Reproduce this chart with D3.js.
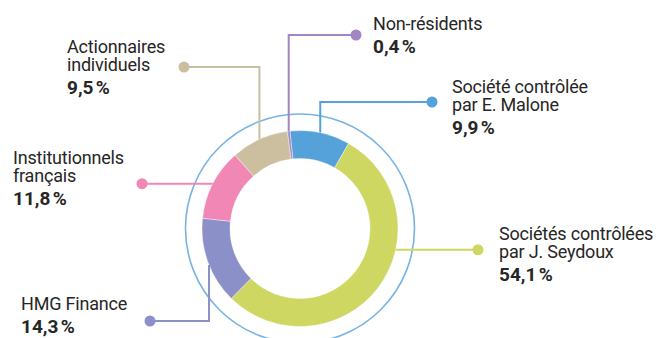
<!DOCTYPE html>
<html>
<head>
<meta charset="utf-8">
<script src="https://cdn.jsdelivr.net/npm/d3@7"></script>
<style>
  html, body { margin: 0; padding: 0; background: #fff; }
  svg { display: block; }
  text { font-family: Roboto, "Liberation Sans", sans-serif; fill: #262626; }
</style>
</head>
<body>
<svg id="chart" width="660" height="338"></svg>
<script>
// Shareholder breakdown, clockwise from the top
const holders = [
  "Société contrôlée|par E. Malone",
  "Sociétés contrôlées|par J. Seydoux",
  "HMG Finance",
  "Institutionnels|français",
  "Actionnaires|individuels",
  "Non-résidents"
];
const shares = [9.9, 54.1, 14.3, 11.8, 9.5, 0.4];
const shareLabels = ["9,9\u202F%", "54,1\u202F%", "14,3\u202F%", "11,8\u202F%", "9,5\u202F%", "0,4\u202F%"];
const colors = ["#54a2d9", "#cdd762", "#8c90c8", "#f087b5", "#cbbf9f", "#a285c3"];

// Callout layout: leader direction, where on the slice it attaches (0..1),
// dot position and text block placement.
const callouts = [
  { dir: "v", t: 0.5,   dot: [432, 102], tx: 452, ty: 93  },
  { dir: "h", t: 0.374, dot: [478, 0],   tx: 499, ty: 240 },
  { dir: "v", t: 0.46,  dot: [150, 321], tx: 21,  ty: 310 },
  { dir: "h", t: 0.5,   dot: [142, 0],   tx: 13,  ty: 164 },
  { dir: "v", t: 0.5,   dot: [184, 67],  tx: 67,  ty: 53  },
  { dir: "v", t: 0.5,   dot: [356, 35],  tx: 373, ty: 30  }
];

const svg = d3.select("#chart");
const cx = 300, cy = 228.5;
const rOuter = 98, rInner = 70, rRing = 114.5;
const lineGap = 17.5, valueGap = 23;

const g = svg.append("g").attr("transform", `translate(${cx},${cy})`);

// Thin outer guide ring
g.append("circle")
  .attr("r", rRing)
  .attr("fill", "none")
  .attr("stroke", "#78b4e3")
  .attr("stroke-width", 1.6);

const start = -5.9 * Math.PI / 180;
const pie = d3.pie().sort(null).startAngle(start).endAngle(start + 2 * Math.PI);
const arcs = pie(shares);
const arc = d3.arc().innerRadius(rInner).outerRadius(rOuter);

g.selectAll("path.slice")
  .data(arcs)
  .join("path")
  .attr("class", "slice")
  .attr("d", arc)
  .attr("fill", (d, i) => colors[i])
  .attr("stroke", "#fff")
  .attr("stroke-width", 0.4);

// Leader lines, dots and text blocks
arcs.forEach((a, i) => {
  const c = callouts[i];
  const ang = a.startAngle + (a.endAngle - a.startAngle) * c.t;
  const ax = cx + rOuter * Math.sin(ang);
  const ay = cy - rOuter * Math.cos(ang);
  let pts, dot;
  if (c.dir === "v") {
    pts = [[ax, ay], [ax, c.dot[1]], [c.dot[0], c.dot[1]]];
    dot = c.dot;
  } else {
    pts = [[ax, ay], [c.dot[0], ay]];
    dot = [c.dot[0], ay];
  }
  svg.append("path")
    .attr("d", d3.line()(pts))
    .attr("fill", "none")
    .attr("stroke", colors[i])
    .attr("stroke-width", 2);
  svg.append("circle")
    .attr("cx", dot[0]).attr("cy", dot[1])
    .attr("r", 5.5)
    .attr("fill", colors[i]);

  const lines = holders[i].split("|");
  lines.forEach((ln, k) => {
    svg.append("text")
      .attr("x", c.tx)
      .attr("y", c.ty + k * lineGap)
      .attr("font-size", 18)
      .attr("letter-spacing", -0.2)
      .text(ln);
  });
  svg.append("text")
    .attr("x", c.tx)
    .attr("y", c.ty + (lines.length - 1) * lineGap + valueGap)
    .attr("font-size", 19)
    .attr("font-weight", 700)
    .attr("letter-spacing", -0.3)
    .text(shareLabels[i]);
});
</script>
</body>
</html>
